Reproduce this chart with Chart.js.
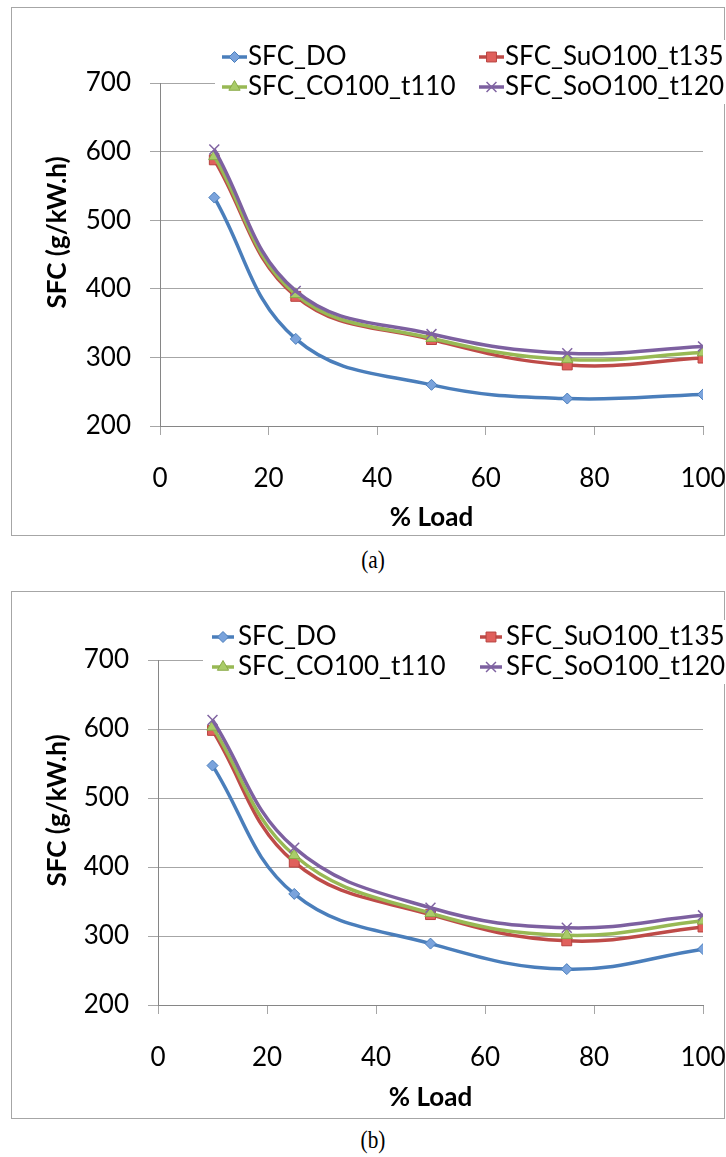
<!DOCTYPE html>
<html>
<head>
<meta charset="utf-8">
<script src="https://cdn.jsdelivr.net/npm/chart.js@4"></script>
<style>
  body { margin: 0; background: #fff; width: 726px; height: 1157px; position: relative; overflow: hidden; }
  .box { position: absolute; border: 1px solid #a6a6a6; box-sizing: border-box; }
  .cv { position: absolute; left: 0; }
  .cap { position: absolute; width: 100px; text-align: center; font-family: 'Liberation Serif', serif; font-size: 25px; transform: scaleX(0.85); }
</style>
</head>
<body>
<div class="box" style="left:11px; top:7px; width:714px; height:529px;"></div>
<div class="box" style="left:11px; top:591px; width:714px; height:528px;"></div>
<canvas id="chartA" class="cv" width="726" height="545" style="top:0px;"></canvas>
<canvas id="chartB" class="cv" width="726" height="550" style="top:575px;"></canvas>
<div class="cap" style="left:323px; top:546px;">(a)</div>
<div class="cap" style="left:323px; top:1126px;">(b)</div>
<script>
// % load on x axis
const loads = [10, 25, 50, 75, 100];
const seriesNames = ['SFC_DO', 'SFC_SuO100_t135', 'SFC_CO100_t110', 'SFC_SoO100_t120'];

// chart (a)
const doA = [533, 327, 260, 240, 246];
const suoA = [588, 389, 326, 289, 299];
const coA = [593, 392, 328, 297, 307];
const sooA = [603, 397, 334, 306, 316];

// chart (b)
const doB = [547, 361, 289, 252, 281];
const suoB = [598, 407, 331, 293, 313];
const coB = [603, 417, 333, 301, 322];
const sooB = [613, 428, 341, 312, 330];

const xTicks = [0, 20, 40, 60, 80, 100];
const yTicks = [200, 300, 400, 500, 600, 700];

const FONT = 'Lato, "Open Sans", sans-serif';

const styles = [
  { line: '#4a7ebb', fill: '#7aa3dc', edge: '#4a7ebb', shape: 'rectRot', r: 5.5 },
  { line: '#be4b48', fill: '#e0605c', edge: '#b8423f', shape: 'rect', r: 7 },
  { line: '#98b954', fill: '#a9cc69', edge: '#8aab48', shape: 'triangle', r: 6.5 },
  { line: '#7d60a0', fill: '#8064a2', edge: '#8064a2', shape: 'crossRot', r: 7 }
];

function makeDatasets(values) {
  return values.map((vals, i) => ({
    label: seriesNames[i],
    data: loads.map((x, j) => ({ x: x, y: vals[j] })),
    borderColor: styles[i].line,
    borderWidth: 3.5,
    tension: 0.4,
    fill: false,
    pointStyle: styles[i].shape,
    pointRadius: styles[i].r,
    pointBackgroundColor: styles[i].fill,
    pointBorderColor: styles[i].edge,
    pointBorderWidth: i === 3 ? 1.5 : 1,
    order: 4 - i
  }));
}

// legend in two columns like the excel one
const gridLegend = {
  id: 'gridLegend',
  afterDraw(chart, args, opts) {
    const ctx = chart.ctx;
    ctx.save();
    ctx.fillStyle = '#fff';
    ctx.fillRect(opts.bg[0], opts.bg[1], opts.bg[2], opts.bg[3]);
    chart.data.datasets.forEach((ds, i) => {
      const x0 = opts.cols[i % 2];
      const y0 = opts.rows[Math.floor(i / 2)];
      ctx.strokeStyle = ds.borderColor;
      ctx.lineWidth = 3.5;
      ctx.beginPath();
      ctx.moveTo(x0, y0);
      ctx.lineTo(x0 + opts.len, y0);
      ctx.stroke();
      ctx.fillStyle = ds.pointBackgroundColor;
      ctx.strokeStyle = ds.pointBorderColor;
      ctx.lineWidth = ds.pointBorderWidth;
      Chart.helpers.drawPoint(ctx, { pointStyle: ds.pointStyle, radius: ds.pointRadius, borderWidth: ds.pointBorderWidth, rotation: 0 }, x0 + opts.len / 2, y0);
      ctx.fillStyle = '#000';
      ctx.font = '26px ' + FONT;
      ctx.textAlign = 'left';
      ctx.textBaseline = 'middle';
      ctx.fillText(ds.label, x0 + opts.len + opts.gap, y0);
    });
    ctx.restore();
  }
};

const yTitle = {
  id: 'yTitle',
  afterDraw(chart, args, opts) {
    const ctx = chart.ctx, a = chart.chartArea;
    ctx.save();
    ctx.translate(opts.x, (a.top + a.bottom) / 2 + opts.dy);
    ctx.rotate(-Math.PI / 2);
    ctx.font = 'bold 26px ' + FONT;
    ctx.fillStyle = '#000';
    ctx.textAlign = 'center';
    ctx.textBaseline = 'middle';
    ctx.fillText(opts.text, 0, 0);
    ctx.restore();
  }
};

function build(id, values, cfg) {
  return new Chart(document.getElementById(id), {
    type: 'line',
    data: { datasets: makeDatasets(values) },
    plugins: [gridLegend, yTitle],
    options: {
      responsive: false,
      animation: false,
      devicePixelRatio: 1,
      layout: { padding: { top: cfg.top, right: 23, bottom: 0, left: 0 } },
      plugins: {
        legend: { display: false },
        tooltip: { enabled: false },
        gridLegend: cfg.legend,
        yTitle: { text: 'SFC (g/kW.h)', x: 58, dy: -22 }
      },
      scales: {
        x: {
          type: 'linear',
          min: 0,
          max: 100,
          afterBuildTicks: s => { s.ticks = xTicks.map(v => ({ value: v })); },
          afterFit: s => { s.height = cfg.xh; s.paddingLeft = 0; s.paddingRight = 0; },
          grid: { drawOnChartArea: false, drawTicks: true, tickLength: 9, color: '#a6a6a6' },
          border: { color: '#868686' },
          ticks: { font: { family: FONT, size: 26 }, color: '#000', padding: 28, maxRotation: 0 },
          title: { display: true, text: '% Load', font: { family: FONT, size: 26, weight: 'bold' }, color: '#000', padding: { top: 0, bottom: 12 } }
        },
        y: {
          min: 200,
          max: 700,
          afterBuildTicks: s => { s.ticks = yTicks.map(v => ({ value: v })); },
          afterFit: s => { s.width = cfg.yw; s.paddingTop = 0; s.paddingBottom = 0; },
          grid: { drawTicks: true, tickLength: 10, color: '#a6a6a6' },
          border: { color: '#868686' },
          ticks: { font: { family: FONT, size: 26 }, color: '#000', padding: 19 }
        }
      }
    }
  });
}

build('chartA', [doA, suoA, coA, sooA], {
  top: 83, xh: 119, yw: 160,
  legend: { bg: [215, 40, 510, 64], cols: [222, 479], rows: [57, 87], len: 25, gap: 1 }
});
build('chartB', [doB, suoB, coB, sooB], {
  top: 85, xh: 120, yw: 158,
  legend: { bg: [203, 45, 522, 64], cols: [212, 480], rows: [62, 92], len: 22, gap: 4 }
});
</script>
</body>
</html>
